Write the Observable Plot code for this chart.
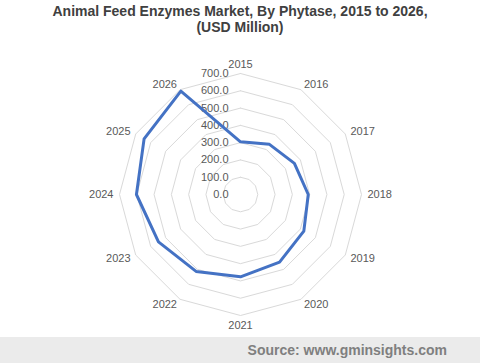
<!DOCTYPE html>
<html><head><meta charset="utf-8">
<script src="https://cdn.jsdelivr.net/npm/d3@7"></script>
<script src="https://cdn.jsdelivr.net/npm/@observablehq/plot@0.6"></script>
<style>
body{margin:0;background:#fff;font-family:"Liberation Sans",Arial,sans-serif;}
#wrap{width:480px;height:363px;position:relative;overflow:hidden;}
#title{height:42px;text-align:center;font-weight:bold;font-size:14px;color:#404040;line-height:16px;padding-top:3px;box-sizing:border-box;}
#chart{height:294px;}
#foot{position:absolute;left:0;top:337px;width:480px;height:26px;background:#ebebeb;}
#foot span{position:absolute;right:33px;top:5px;font-weight:bold;font-size:14px;color:#7f7f7f;}
</style></head>
<body>
<div id="wrap">
<div id="title">Animal Feed Enzymes Market, By Phytase, 2015 to 2026,<br>(USD Million)</div>
<div id="chart"></div>
<div id="foot"><span>Source: www.gminsights.com</span></div>
</div>
<script>
const years = ["2015","2016","2017","2018","2019","2020","2021","2022","2023","2024","2025","2026"];
const phytase = [305, 335, 360, 392, 423, 452, 476, 514, 548, 602, 644, 690];
const ringValues = [100, 200, 300, 400, 500, 600, 700];
const tickValues = [0, 100, 200, 300, 400, 500, 600, 700];

const maxV = 700, radiusPx = 121;
const k = maxV / radiusPx; // data units per pixel
const n = years.length;
const ang = i => (i / n) * 2 * Math.PI;
const px = (i, v) => v * Math.sin(ang(i));
const py = (i, v) => v * Math.cos(ang(i));

const series = years.map((y, i) => ({year: y, i, v: phytase[i]}));
const seriesClosed = [...series, series[0]];

const rings = [];
for (const r of ringValues) for (let i = 0; i <= n; i++) rings.push({r, i: i % n});

const labelR = 127 * k;
const labels = years.map((y, i) => ({year: y, i}));
const eps = 1e-6;
const rightLabels = labels.filter(d => Math.sin(ang(d.i)) > eps);
const leftLabels = labels.filter(d => Math.sin(ang(d.i)) < -eps);
const topLabels = labels.filter(d => Math.abs(Math.sin(ang(d.i))) <= eps && Math.cos(ang(d.i)) > 0);
const bottomLabels = labels.filter(d => Math.abs(Math.sin(ang(d.i))) <= eps && Math.cos(ang(d.i)) < 0);

const txt = {fill: "#595959", fontSize: 11};
const chart = Plot.plot({
  width: 480, height: 294, margin: 0,
  x: {domain: [-240 * k, 240 * k], axis: null},
  y: {domain: [-142 * k, 152 * k], axis: null},
  style: {fontFamily: "'Liberation Sans', Arial, sans-serif", fontSize: "11px", background: "transparent"},
  marks: [
    Plot.line(rings, {x: d => px(d.i, d.r), y: d => py(d.i, d.r), z: "r", stroke: "#d9d9d9", strokeWidth: 1}),
    Plot.text(tickValues, {x: 0, y: d => d, text: d => d.toFixed(1), textAnchor: "end", dx: -12, ...txt}),
    Plot.line(seriesClosed, {x: d => px(d.i, d.v), y: d => py(d.i, d.v), stroke: "#4472C4", strokeWidth: 3, strokeLinejoin: "round"}),
    Plot.text(rightLabels, {x: d => px(d.i, labelR), y: d => py(d.i, labelR), text: "year", textAnchor: "start", ...txt}),
    Plot.text(leftLabels, {x: d => px(d.i, labelR), y: d => py(d.i, labelR), text: "year", textAnchor: "end", ...txt}),
    Plot.text(topLabels, {x: d => px(d.i, labelR), y: d => py(d.i, labelR), text: "year", lineAnchor: "bottom", ...txt}),
    Plot.text(bottomLabels, {x: d => px(d.i, labelR), y: d => py(d.i, labelR), text: "year", lineAnchor: "top", ...txt})
  ]
});
document.getElementById("chart").appendChild(chart);
</script>
</body></html>
